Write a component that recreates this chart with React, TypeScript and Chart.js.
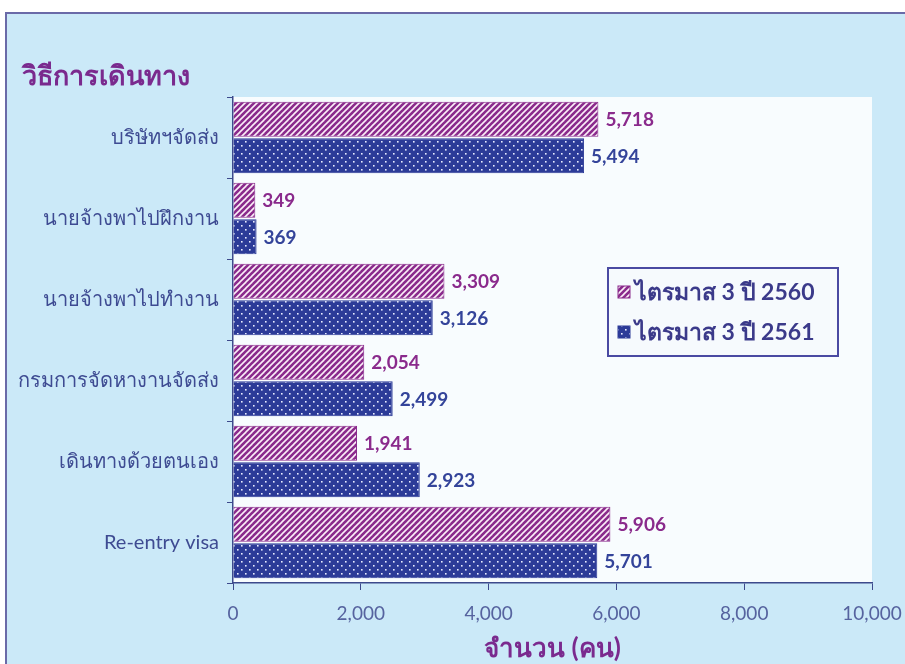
import React, { useEffect, useRef } from "react";
import { Chart, registerables } from "chart.js";
Chart.register(...registerables);

const categories = [
  "บริษัทฯจัดส่ง",
  "นายจ้างพาไปฝึกงาน",
  "นายจ้างพาไปทำงาน",
  "กรมการจัดหางานจัดส่ง",
  "เดินทางด้วยตนเอง",
  "Re-entry visa",
];
const series2560 = [5718, 349, 3309, 2054, 1941, 5906];
const series2561 = [5494, 369, 3126, 2499, 2923, 5701];
const seriesNames = ["ไตรมาส 3 ปี 2560", "ไตรมาส 3 ปี 2561"];
const xMin = 0;
const xMax = 10000;
const xStep = 2000;
const yTitle = "วิธีการเดินทาง";
const xTitle = "จำนวน (คน)";

const FONT = "Lato, 'Noto Sans', 'DejaVu Sans', sans-serif";
const PURPLE = "#8a2a8c";
const BLUE = "#2c3b98";
const LABEL_BLUE = "#34449a";
const AXIS = "#3d4a8c";

function stripePattern(): CanvasPattern {
  const c = document.createElement("canvas");
  c.width = 6;
  c.height = 6;
  const g = c.getContext("2d")!;
  g.fillStyle = PURPLE;
  g.fillRect(0, 0, 6, 6);
  g.strokeStyle = "#fbeef8";
  g.lineWidth = 1.6;
  for (let k = -1; k <= 1; k++) {
    g.beginPath();
    g.moveTo(k * 6 - 1, 7);
    g.lineTo(k * 6 + 7, -1);
    g.stroke();
  }
  return g.createPattern(c, "repeat")!;
}

function dotPattern(): CanvasPattern {
  const c = document.createElement("canvas");
  c.width = 8;
  c.height = 8;
  const g = c.getContext("2d")!;
  g.fillStyle = BLUE;
  g.fillRect(0, 0, 8, 8);
  g.fillStyle = "#e8ecff";
  g.fillRect(1, 1, 1.6, 1.6);
  g.fillRect(5, 5, 1.6, 1.6);
  return g.createPattern(c, "repeat")!;
}

export default function App() {
  const ref = useRef<HTMLCanvasElement>(null);
  useEffect(() => {
    const canvas = ref.current!;
    const stripes = stripePattern();
    const dots = dotPattern();

    const bgPlugin = {
      id: "bg",
      beforeDraw(chart: any) {
        const { ctx, chartArea } = chart;
        ctx.save();
        ctx.fillStyle = "#ffffff";
        ctx.fillRect(0, 0, chart.width, chart.height);
        ctx.fillStyle = "#cbe9f8";
        ctx.fillRect(6, 13, chart.width, chart.height);
        ctx.strokeStyle = "#6a6aa8";
        ctx.lineWidth = 2;
        ctx.strokeRect(6, 13, chart.width + 10, chart.height + 10);
        ctx.fillStyle = "#f8fcfe";
        ctx.fillRect(chartArea.left, chartArea.top, chartArea.right - chartArea.left, chartArea.bottom - chartArea.top);
        ctx.fillStyle = "#7a2a8e";
        ctx.font = "bold 27px " + FONT;
        ctx.textBaseline = "middle";
        ctx.textAlign = "left";
        ctx.fillText(yTitle, 22, 76);
        ctx.restore();
      },
    };

    const labelPlugin = {
      id: "vals",
      afterDatasetsDraw(chart: any) {
        const { ctx } = chart;
        ctx.save();
        ctx.font = "bold 19px " + FONT;
        ctx.textBaseline = "middle";
        ctx.textAlign = "left";
        chart.data.datasets.forEach((ds: any, i: number) => {
          const meta = chart.getDatasetMeta(i);
          ctx.fillStyle = i === 0 ? PURPLE : LABEL_BLUE;
          meta.data.forEach((el: any, j: number) => {
            ctx.fillText(Number(ds.data[j]).toLocaleString("en-US"), el.x + 7, el.y + 1);
          });
        });
        ctx.restore();
      },
    };

    const legendPlugin = {
      id: "customLegend",
      afterDraw(chart: any) {
        const { ctx } = chart;
        ctx.save();
        const x = 608, y = 268, w = 230, h = 88;
        ctx.fillStyle = "#f6fafd";
        ctx.fillRect(x, y, w, h);
        ctx.strokeStyle = "#4a4aa2";
        ctx.lineWidth = 2;
        ctx.strokeRect(x, y, w, h);
        const fills = [stripes, dots];
        const borders = [PURPLE, BLUE];
        const rows = [292, 332];
        ctx.font = "bold 23px " + FONT;
        ctx.textBaseline = "middle";
        ctx.textAlign = "left";
        seriesNames.forEach((n, i) => {
          ctx.fillStyle = fills[i];
          ctx.fillRect(618, rows[i] - 6, 12, 12);
          ctx.strokeStyle = borders[i];
          ctx.lineWidth = 1;
          ctx.strokeRect(618, rows[i] - 6, 12, 12);
          ctx.fillStyle = "#3b3a8a";
          ctx.fillText(n, 635, rows[i] + 1);
        });
        ctx.restore();
      },
    };

    const chart = new Chart(canvas, {
      type: "bar",
      data: {
        labels: categories,
        datasets: [
          {
            label: seriesNames[0],
            data: series2560,
            backgroundColor: stripes as any,
            borderColor: PURPLE,
            borderWidth: 1,
            categoryPercentage: 0.9,
            barPercentage: 0.96,
          },
          {
            label: seriesNames[1],
            data: series2561,
            backgroundColor: dots as any,
            borderColor: BLUE,
            borderWidth: 1,
            categoryPercentage: 0.9,
            barPercentage: 0.96,
          },
        ],
      },
      options: {
        indexAxis: "y",
        responsive: false,
        animation: false,
        devicePixelRatio: 1,
        layout: { padding: { left: 0, right: 33, top: 97, bottom: 0 } },
        plugins: {
          legend: { display: false },
          tooltip: { enabled: false },
        },
        scales: {
          x: {
            min: xMin,
            max: xMax,
            afterFit(scale: any) {
              scale.height = 81;
              scale.paddingRight = 0;
              scale.paddingLeft = 0;
            },
            ticks: {
              stepSize: xStep,
              color: "#56639f",
              font: { family: FONT, size: 19 },
              padding: 12,
              maxRotation: 0,
              callback: (v: any) => Number(v).toLocaleString("en-US"),
            },
            grid: {
              drawOnChartArea: false,
              drawTicks: true,
              tickLength: 7,
              color: AXIS,
            },
            border: { display: true, color: AXIS, width: 1.5 },
            title: {
              display: true,
              text: xTitle,
              color: "#7a2a8e",
              font: { family: FONT, size: 26, weight: "bold" },
              padding: { top: 0, bottom: 0 },
            },
          },
          y: {
            afterFit(scale: any) {
              scale.width = 233;
              scale.paddingTop = 0;
              scale.paddingBottom = 0;
            },
            ticks: {
              color: "#3e4b92",
              font: { family: FONT, size: 20 },
              padding: 8,
            },
            grid: {
              drawOnChartArea: false,
              drawTicks: true,
              tickLength: 6,
              color: AXIS,
              offset: true,
            },
            border: { display: true, color: AXIS, width: 1.5 },
          },
        },
      } as any,
      plugins: [bgPlugin, labelPlugin, legendPlugin],
    });
    return () => chart.destroy();
  }, []);

  return (
    <div style={{ position: "fixed", left: 0, top: 0, width: 905, height: 664 }}>
      <canvas ref={ref} width={905} height={664} style={{ width: 905, height: 664, display: "block" }} />
    </div>
  );
}
